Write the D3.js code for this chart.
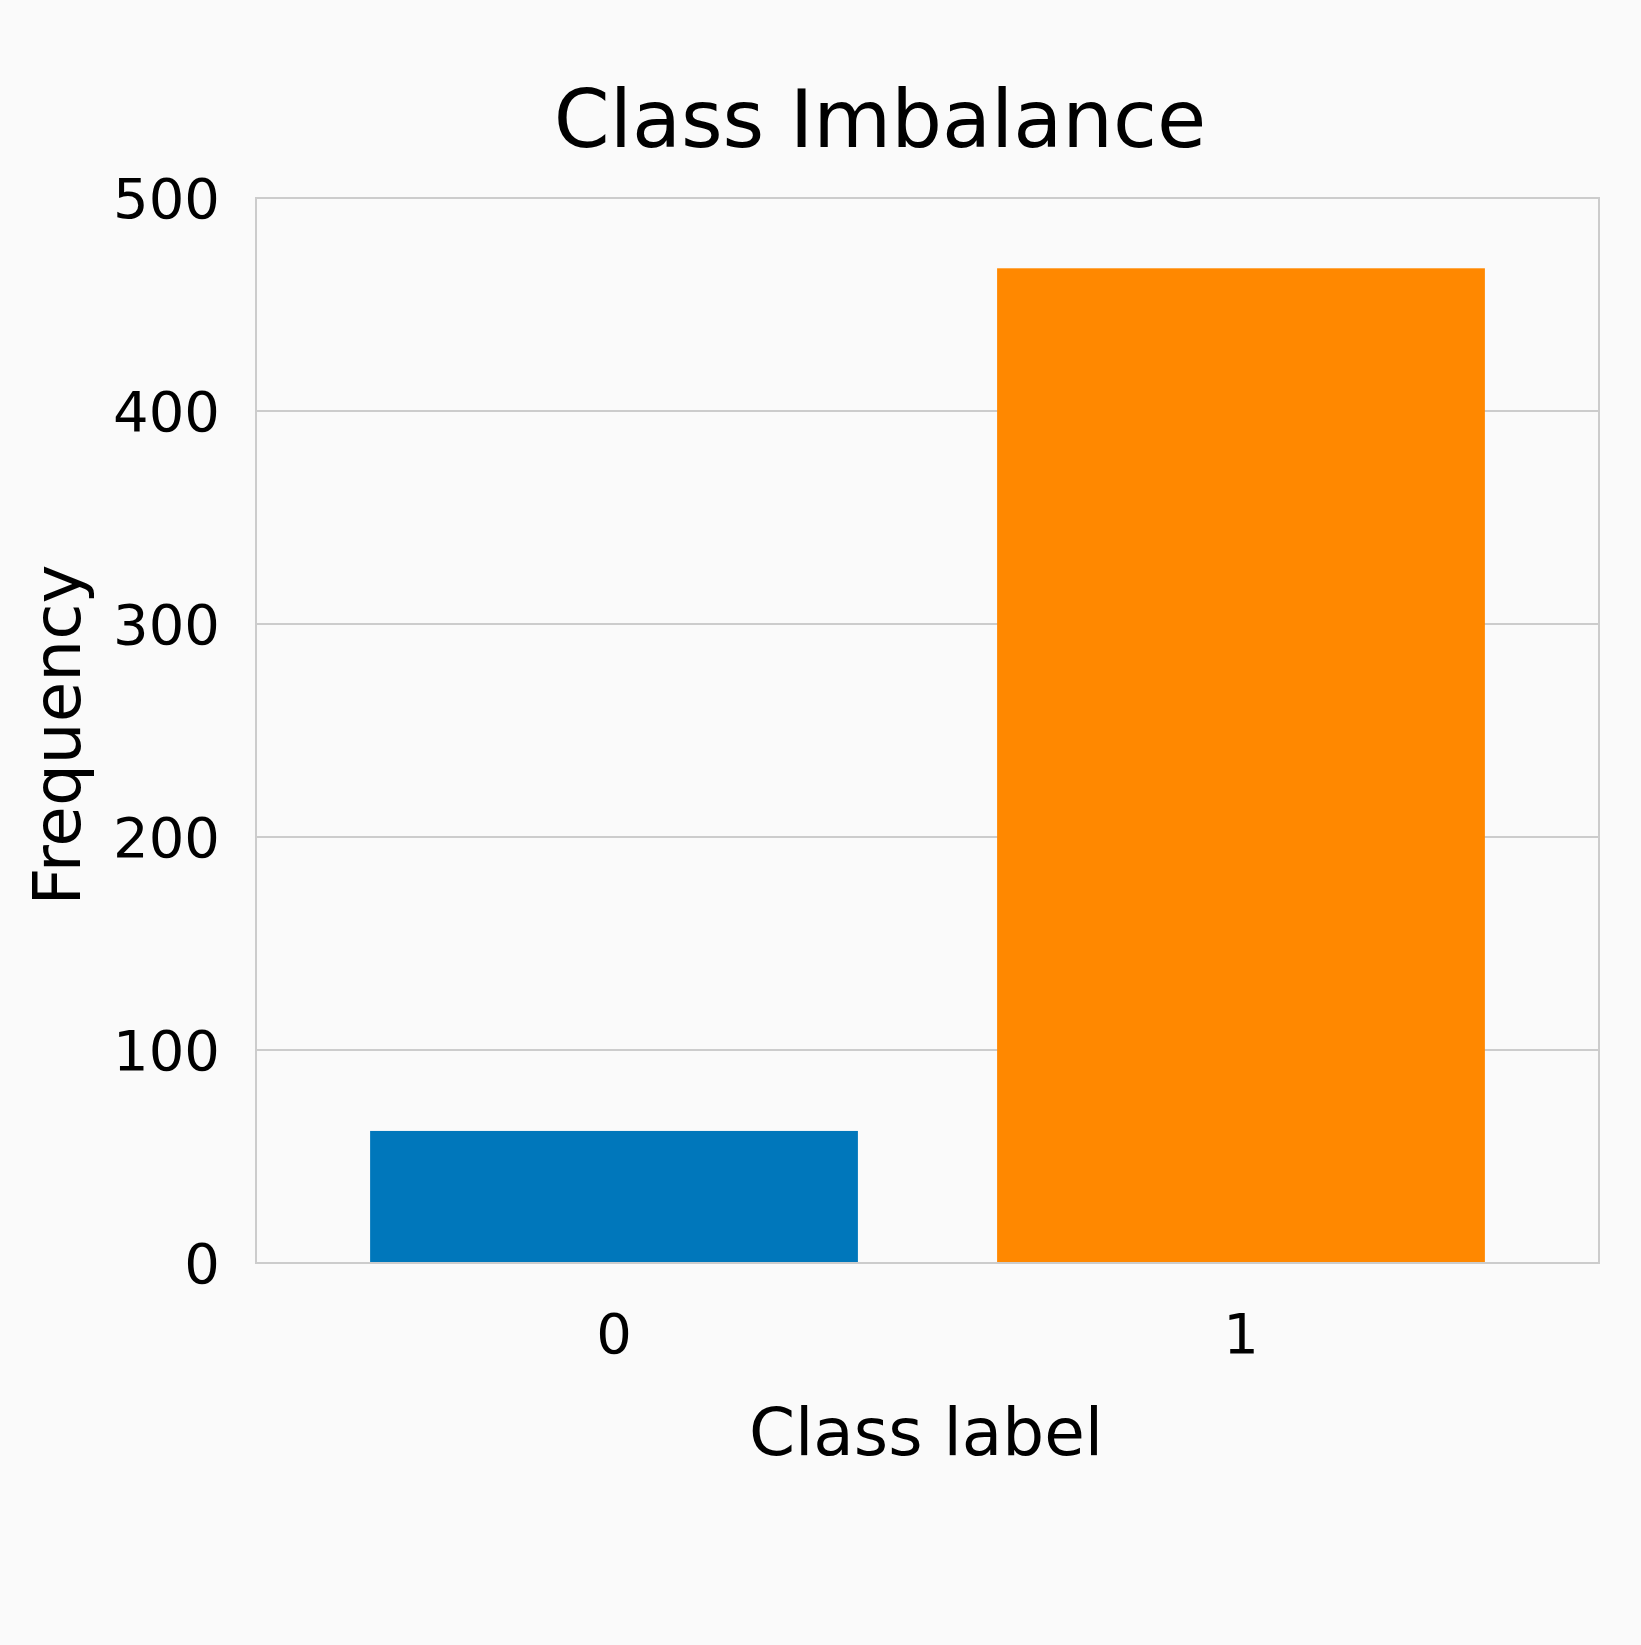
<!DOCTYPE html>
<html>
<head>
<meta charset="utf-8">
<script src="https://cdn.jsdelivr.net/npm/d3@7"></script>
<style>
  body { margin: 0; background: #fafafa; }
  text { font-family: "DejaVu Sans", sans-serif; fill: #000; }
</style>
</head>
<body>
<svg id="chart"></svg>
<script>
const classes = ["0", "1"];
const counts = [62, 467];
const barColors = ["#0077bb", "#ff8800"];
const yTicks = [0, 100, 200, 300, 400, 500];

const W = 1641, H = 1645;
const m = { left: 256, right: 42, top: 198, bottom: 382 };

const svg = d3.select("#chart").attr("width", W).attr("height", H);
svg.append("rect").attr("width", W).attr("height", H).attr("fill", "#fafafa");

const x = d3.scaleBand().domain(classes)
    .range([m.left, W - m.right])
    .paddingInner(0.222).paddingOuter(0.182);
const y = d3.scaleLinear().domain([0, 500]).range([H - m.bottom, m.top]);

// grid lines
svg.append("g").selectAll("line")
    .data(yTicks).enter().append("line")
    .attr("x1", m.left).attr("x2", W - m.right)
    .attr("y1", d => y(d)).attr("y2", d => y(d))
    .attr("stroke", "#cccccc").attr("stroke-width", 2);

// bars
svg.append("g").selectAll("rect")
    .data(counts).enter().append("rect")
    .attr("x", (d, i) => x(classes[i]))
    .attr("width", x.bandwidth())
    .attr("y", d => y(d))
    .attr("height", d => y(0) - y(d))
    .attr("fill", (d, i) => barColors[i]);

// plot frame
svg.append("rect")
    .attr("x", m.left).attr("y", m.top)
    .attr("width", W - m.left - m.right).attr("height", H - m.top - m.bottom)
    .attr("fill", "none").attr("stroke", "#cccccc").attr("stroke-width", 2);

// y tick labels
svg.append("g").selectAll("text")
    .data(yTicks).enter().append("text")
    .attr("x", 220).attr("y", d => y(d))
    .attr("dy", "0.36em")
    .attr("text-anchor", "end")
    .style("font-size", "56px")
    .text(d => d);

// x tick labels
svg.append("g").selectAll("text")
    .data(classes).enter().append("text")
    .attr("x", d => x(d) + x.bandwidth() / 2)
    .attr("y", 1353)
    .attr("text-anchor", "middle")
    .style("font-size", "56px")
    .text(d => d);

svg.append("text").attr("x", 880).attr("y", 147)
    .attr("text-anchor", "middle").style("font-size", "80px")
    .text("Class Imbalance");

svg.append("text").attr("x", 926).attr("y", 1455)
    .attr("text-anchor", "middle").style("font-size", "66px")
    .text("Class label");

svg.append("text")
    .attr("transform", "translate(80,735) rotate(-90)")
    .attr("text-anchor", "middle").style("font-size", "66px")
    .text("Frequency");
</script>
</body>
</html>
